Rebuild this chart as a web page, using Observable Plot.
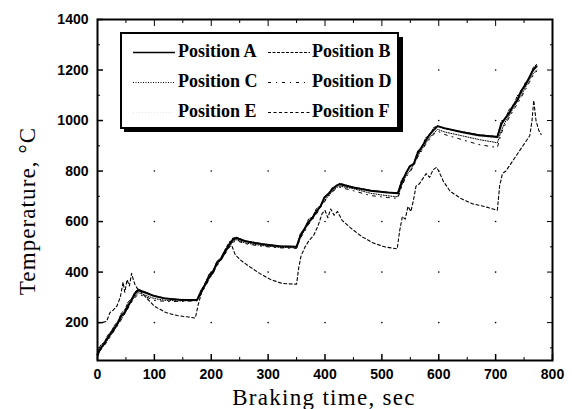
<!DOCTYPE html>
<html><head><meta charset="utf-8">
<script src="https://cdn.jsdelivr.net/npm/d3@7"></script>
<script src="https://cdn.jsdelivr.net/npm/@observablehq/plot@0.6"></script>
<style>
html,body{margin:0;padding:0;background:#fff;}
#wrap{position:relative;width:572px;height:409px;}
#wrap svg{display:block}
</style></head><body><div id="wrap"></div>
<script>
// ---- data ----
const tGroup = [0,6,12,18,24,30,36,42,48,54,60,66,72, 85,100,120,145,175, 182,189,196,203,210,217,224,231,238,244, 260,290,320,350, 357,364,371,378,385,392,399,406,413,420,426, 450,480,510,528, 535,542,549,556,563,570,577,584,591,598, 610,640,670,703, 710,717,724,731,738,745,752,759,766,772];
const tempA = [75,100,118,140,160,178,200,228,240,268,290,315,328, 318,305,295,290,290, 320,350,380,398,438,450,478,505,528,535, 522,510,502,500, 545,572,598,615,640,660,695,710,728,742,748, 735,722,715,712, 755,790,818,828,870,895,920,945,962,978, 970,955,942,935, 985,1010,1030,1060,1080,1118,1140,1170,1200,1215];
const tempB = [85,112,122,150,165,190,205,238,250,282,295,322,332, 320,306,296,292,291, 330,352,392,405,442,458,488,512,535,538, 524,512,503,501, 555,570,610,618,652,662,698,708,735,740,752, 736,724,716,713, 768,785,822,830,880,890,932,940,972,978, 968,956,944,937, 998,1005,1045,1055,1098,1108,1150,1165,1210,1222];
const tempC = [70,95,112,132,152,172,194,215,238,262,285,305,318, 308,295,288,286,287, 315,345,372,400,428,450,475,500,520,528, 515,505,498,496, 540,565,592,612,635,660,682,702,720,735,740, 730,712,702,698, 745,780,800,825,860,885,910,932,950,965, 955,940,925,912, 960,995,1020,1050,1075,1100,1130,1160,1185,1200];
const tempD = [65,92,110,128,150,170,190,212,235,258,280,300,312, 302,288,284,284,286, 312,340,370,395,425,448,470,495,515,525, 512,502,496,494, 535,560,588,608,630,655,678,700,718,730,736, 722,703,695,692, 740,775,795,820,855,880,905,925,945,958, 945,925,905,893, 950,985,1012,1040,1065,1092,1120,1150,1178,1195];
const tempE = [80,104,120,142,162,180,202,224,246,270,292,312,325, 315,303,294,289,289, 318,348,378,400,428,452,476,502,525,532, 520,508,500,498, 542,570,595,612,638,662,685,706,725,740,745, 733,720,713,710, 752,786,806,828,866,890,916,940,958,974, 966,950,937,930, 980,1005,1026,1055,1080,1105,1135,1165,1195,1210];
const tF = [0,8,16,22,28,34,40,45,48,52,56,60,63,66,70,75,85,100,120,140,160,172,177,183,190,197,204,211,218,225,232,237,242,250,265,285,305,325,350,354,358,365,372,380,388,395,400,405,410,416,422,430,445,465,485,505,527,531,536,541,546,551,556,560,566,572,578,584,590,596,600,608,620,640,660,680,703,707,712,718,724,730,736,742,748,754,760,764,767,771,776,780];
const tempF = [200,200,205,240,250,265,300,360,320,370,345,395,370,350,335,325,300,265,240,228,222,218,270,320,360,390,410,430,460,490,520,500,470,450,425,395,370,355,352,420,465,500,525,545,585,632,644,615,650,625,640,605,575,540,515,500,492,560,620,610,660,640,690,740,750,770,790,775,805,815,800,760,720,690,670,660,645,740,790,800,820,840,860,880,900,920,940,1000,1080,1000,960,945];

const seriesNames = ["Position A","Position B","Position C","Position D","Position E","Position F"];
const xMajor = [0,100,200,300,400,500,600,700,800];
const xMinor = [50,150,250,350,450,550,650,750];
const yMajor = [200,400,600,800,1000,1200,1400];
const yMinor = [100,300,500,700,900,1100,1300];
const gridX = [100,200,300,400,500,600,700];
const gridY = [200,400,600,800,1000,1200];
const xTitle = "Braking time, sec";
const yTitle = "Temperature, °C";

// ---- styles ----
const styles = {
  "Position A": {dash: null, width: 2, color: "#000"},
  "Position B": {dash: "3,1.5", width: 1, color: "#000"},
  "Position C": {dash: "1,1.5", width: 1, color: "#000"},
  "Position D": {dash: "3,5,1,5", width: 1, color: "#000"},
  "Position E": {dash: "1,2", width: 1, color: "#e6e6e6"},
  "Position F": {dash: "3,2.5", width: 1.1, color: "#000"}
};
const seriesData = {
  "Position A": [tGroup, tempA], "Position B": [tGroup, tempB], "Position C": [tGroup, tempC],
  "Position D": [tGroup, tempD], "Position E": [tGroup, tempE], "Position F": [tF, tempF]
};
const drawOrder = ["Position E","Position F","Position D","Position C","Position B","Position A"];
const lineMarks = drawOrder.map(n => {
  const [ts, vs] = seriesData[n];
  const s = styles[n];
  return Plot.line(ts.map((t, i) => ({t, v: vs[i]})), {x: "t", y: "v", stroke: s.color, strokeWidth: s.width, strokeDasharray: s.dash, strokeLinejoin: "round"});
});
const gridPts = gridX.flatMap(x => gridY.map(y => ({x, y})));

const tickFont = {fontFamily: "Liberation Sans, Arial, sans-serif", fontWeight: "bold", fontSize: 14};
const plain = d => String(d);
const empty = () => "";
const serif = "Liberation Serif, Times New Roman, serif";

const chart = Plot.plot({
  width: 572, height: 409,
  marginLeft: 97, marginRight: 20, marginTop: 19, marginBottom: 49,
  x: {domain: [0, 800]},
  y: {domain: [50, 1400]},
  style: {background: "white", color: "black", overflow: "visible"},
  marks: [
    Plot.dot(gridPts, {x: "x", y: "y", r: 0.8, fill: "#000", stroke: null}),
    ...lineMarks,
    Plot.frame({strokeWidth: 2}),
    Plot.axisX({ticks: xMajor, tickSize: -6, tickPadding: 15, strokeWidth: 1.5, tickFormat: plain, label: null, ...tickFont}),
    Plot.axisX({ticks: xMinor, tickSize: -3, tickFormat: empty, label: null}),
    Plot.axisX({anchor: "top", ticks: xMajor, tickSize: -6, tickFormat: empty, label: null}),
    Plot.axisX({anchor: "top", ticks: xMinor, tickSize: -3, tickFormat: empty, label: null}),
    Plot.axisY({ticks: yMajor, tickSize: -6, tickPadding: 15, strokeWidth: 1.5, tickFormat: plain, label: null, ...tickFont}),
    Plot.axisY({ticks: yMinor, tickSize: -3, tickFormat: empty, label: null}),
    Plot.axisY({anchor: "right", ticks: yMajor, tickSize: -6, tickFormat: empty, label: null}),
    Plot.axisY({anchor: "right", ticks: yMinor, tickSize: -3, tickFormat: empty, label: null}),
    Plot.text([yTitle], {text: d => d, frameAnchor: "left", textAnchor: "middle", lineAnchor: "middle", dx: -70, dy: 21, rotate: -90, fontSize: 23, fontFamily: serif}),
    Plot.text([xTitle], {text: d => d, frameAnchor: "bottom", textAnchor: "middle", lineAnchor: "middle", dx: -1, dy: 37, fontSize: 23, fontFamily: serif})
  ]
});
const wrap = document.getElementById("wrap");
wrap.appendChild(chart);
d3.select(chart).selectAll("text").filter(function(){ return this.textContent === xTitle; }).attr("letter-spacing", 1.3);
d3.select(chart).selectAll("text").filter(function(){ return this.textContent === yTitle; }).attr("letter-spacing", 1.1);

// ---- legend overlay ----
const lg = d3.select(wrap).append("svg").attr("width", 572).attr("height", 409)
  .style("position", "absolute").style("left", "0px").style("top", "0px");
lg.append("rect").attr("x", 124).attr("y", 37).attr("width", 279).attr("height", 95).attr("fill", "#000");
lg.append("rect").attr("x", 121).attr("y", 33).attr("width", 277).attr("height", 95).attr("fill", "#fff").attr("stroke", "#000").attr("stroke-width", 2);
const colLine = [[133, 175], [268, 310]];
const colText = [178, 312];
seriesNames.forEach((n, i) => {
  const col = i % 2, row = Math.floor(i / 2);
  const cy = 52.5 + row * 30;
  const s = styles[n];
  lg.append("line").attr("x1", colLine[col][0]).attr("x2", colLine[col][1]).attr("y1", cy).attr("y2", cy)
    .attr("stroke", s.color).attr("stroke-width", s.width === 2 ? 1.6 : s.width).attr("stroke-dasharray", s.dash);
  lg.append("text").attr("x", colText[col]).attr("y", cy + 4.5).text(n)
    .attr("font-family", serif).attr("font-weight", "bold").attr("font-size", 18);
});
</script></body></html>
